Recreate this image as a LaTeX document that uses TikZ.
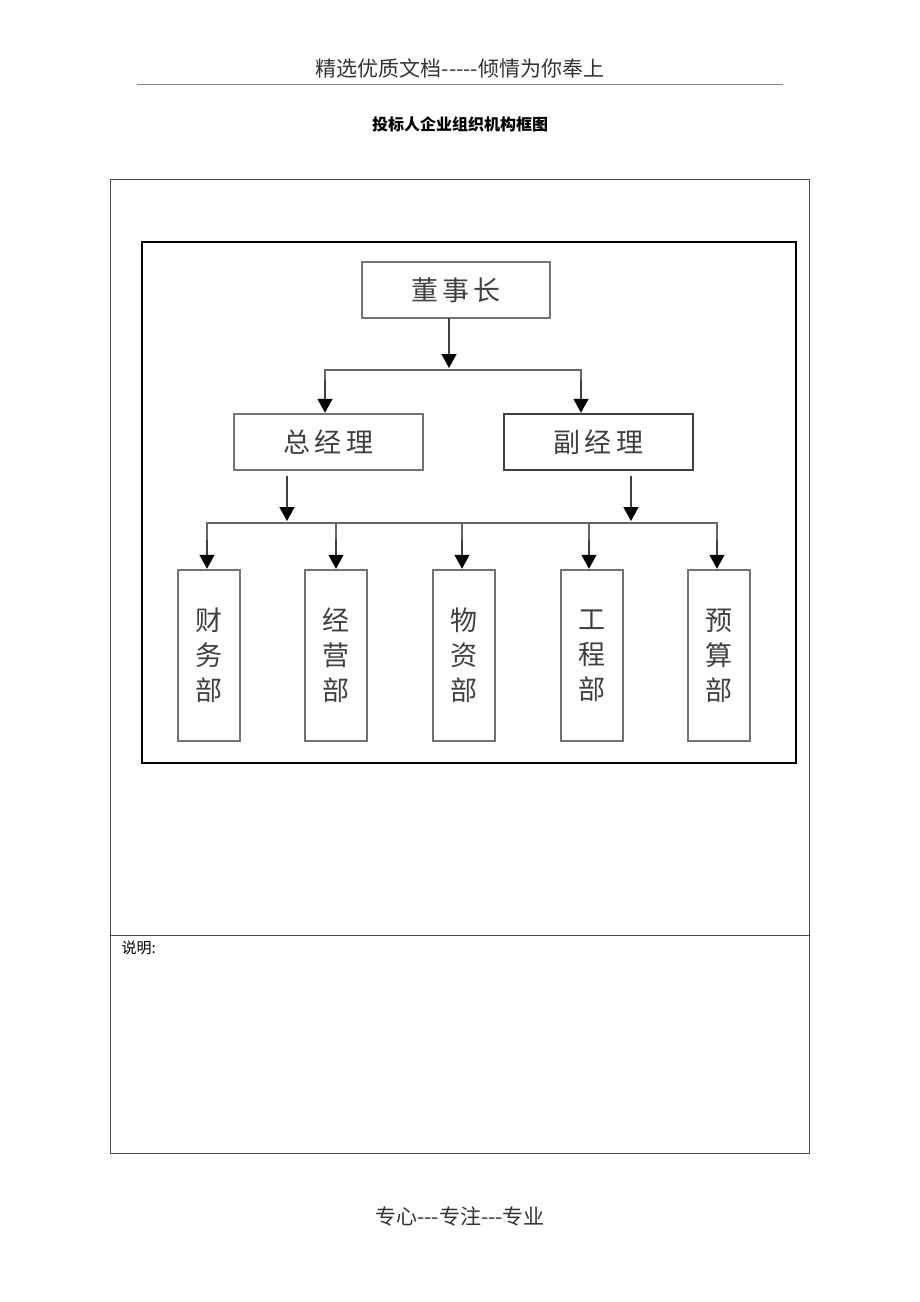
\documentclass[tikz,border=0pt]{standalone}
\usepackage{fontspec}
\newfontfamily\cjk{Noto Sans CJK SC}
\usetikzlibrary{arrows.meta}
\begin{document}
\begin{tikzpicture}[x=1pt,y=-1pt,
  box/.style={draw=black!55,line width=2.5pt,fill=white,inner sep=0pt},
  conn/.style={draw=black!60,line width=2.5pt},
  arr/.style={draw=black!75,line width=1.5pt,-{Triangle[length=14pt,width=15pt,fill=black,color=black]}},
  lbl/.style={font=\cjk\fontsize{27}{32}\selectfont,text=black!75}]
\useasboundingbox (0,0) rectangle (920,1302);
\node[font=\cjk\fontsize{21}{24}\selectfont,text=black!80] (hdr) at (460,68) {精选优质文档-----倾情为你奉上};
\draw[black!50,line width=0.6pt] (137,84) -- (783,84);
\node[font=\cjk\bfseries\fontsize{16}{20}\selectfont] (title) at (460,124) {投标人企业组织机构框图};
\draw[black!70,line width=0.8pt] (110,179) rectangle (809,1153);
\draw[black!70,line width=0.8pt] (110,935) -- (809,935);
\node[anchor=west,font=\cjk\fontsize{15}{18}\selectfont] (note) at (118,948) {说明:};
\draw[black,line width=1.5pt] (142,242) rectangle (796,763);
\node[box,minimum width=188pt,minimum height=56pt,lbl] (ceo) at (456,290) {董\,事\,长};
\node[box,minimum width=189pt,minimum height=56pt,lbl] (gm) at (328.5,442) {总\,经\,理};
\node[box,draw=black!75,minimum width=189pt,minimum height=56pt,lbl] (vgm) at (598.5,442) {副\,经\,理};
\foreach \n/\x/\t in {d1/209/财\\务\\部, d2/336/经\\营\\部, d3/464/物\\资\\部, d4/592/工\\程\\部, d5/719/预\\算\\部}
  \node[box,minimum width=62pt,minimum height=171pt,lbl,align=center,font=\cjk\fontsize{27}{35}\selectfont] (\n) at (\x,655.5) {\t};
\draw[arr] (449,318) -- (449,368);
\draw[conn] (325,410) |- (581,370) -- (581,410);
\draw[arr] (325,380) -- (gm.north -| 325,0);
\draw[arr] (581,380) -- (vgm.north -| 581,0);
\draw[arr] (287,476) -- (287,521);
\draw[arr] (631,476) -- (631,521);
\draw[conn] (207,566) |- (717,523) -- (717,566);
\foreach \x/\n in {207/d1,336/d2,462/d3,589/d4,717/d5}{
  \draw[conn] (\x,523) -- (\x,550);
  \draw[arr] (\x,540) -- (\n.north -| \x,0);
}
\node[font=\cjk\fontsize{21}{24}\selectfont,text=black!80] (ftr) at (460,1216) {专心---专注---专业};
\end{tikzpicture}
\end{document}
